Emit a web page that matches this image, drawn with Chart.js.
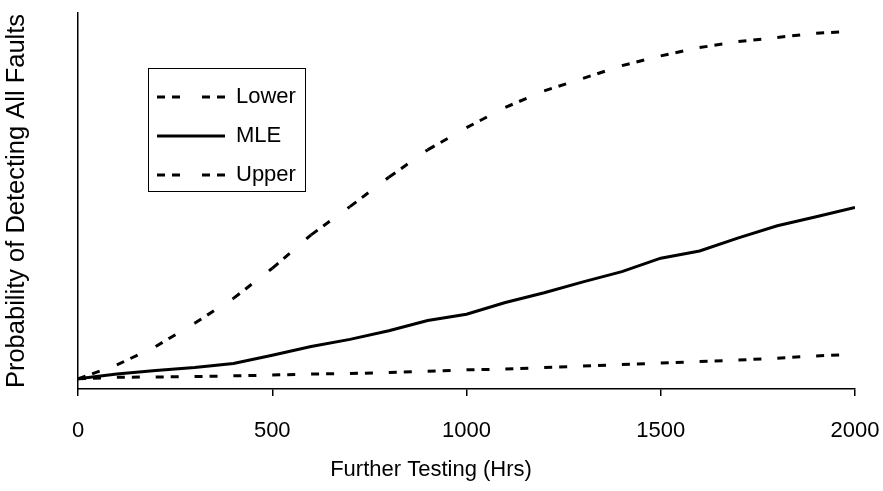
<!DOCTYPE html>
<html>
<head>
<meta charset="utf-8">
<script src="https://cdn.jsdelivr.net/npm/chart.js@4.4.1/dist/chart.umd.min.js"></script>
<style>
  body { margin: 0; background: #fff; }
</style>
</head>
<body>
<canvas id="chart" width="883" height="491"></canvas>
<script>
// y on a 0..1 probability scale
const hours = [0, 100, 200, 300, 400, 500, 600, 700, 800, 900, 1000,
  1100, 1200, 1300, 1400, 1500, 1600, 1700, 1800, 1900, 2000];
const lower = [0.027, 0.031, 0.032, 0.033, 0.035, 0.037, 0.040, 0.041, 0.044, 0.047, 0.051,
  0.053, 0.057, 0.061, 0.065, 0.069, 0.073, 0.077, 0.082, 0.088, 0.092];
const mle = [0.027, 0.040, 0.049, 0.057, 0.068, 0.090, 0.113, 0.132, 0.155, 0.182, 0.199,
  0.230, 0.256, 0.285, 0.312, 0.348, 0.367, 0.402, 0.434, 0.458, 0.483];
const upper = [0.027, 0.064, 0.113, 0.175, 0.241, 0.321, 0.410, 0.485, 0.563, 0.636, 0.695,
  0.749, 0.793, 0.826, 0.860, 0.886, 0.908, 0.924, 0.935, 0.946, 0.952];
const xTicks = [0, 500, 1000, 1500, 2000];

const FONT = "'Liberation Sans', Arial, sans-serif";
const DASH = [8, 7, 8, 22];
const toPoints = (vals) => hours.map((h, i) => ({ x: h, y: vals[i] }));

// restart the dash pattern at every point, like the spreadsheet does
const dashRestart = { borderDashOffset: (c) => (c.p0DataIndex % 2) * 0.01 };

// the legend sits inside the plot with a thin frame around it
const legendBox = {
  id: "legendBox",
  afterLayout(chart) {
    const lg = chart.legend;
    lg.left += 62;
    lg.top += 69;
  },
  afterDraw(chart) {
    const lg = chart.legend;
    const pad = lg.options.labels.padding;
    const col = lg.columnSizes[0];
    const ctx = chart.ctx;
    ctx.save();
    ctx.strokeStyle = "#000";
    ctx.lineWidth = 1;
    ctx.strokeRect(
      Math.round(lg.left + pad - 9) + 0.5,
      Math.round(lg.top + pad - 18) + 0.5,
      Math.round(col.width + 18),
      Math.round(col.height - pad + 23)
    );
    ctx.restore();
  },
};

const ctx = document.getElementById("chart");
new Chart(ctx, {
  type: "line",
  data: {
    datasets: [
      {
        label: "Lower",
        data: toPoints(lower),
        borderColor: "#000",
        borderWidth: 3,
        borderDash: DASH,
        segment: dashRestart,
      },
      {
        label: "MLE",
        data: toPoints(mle),
        borderColor: "#000",
        borderWidth: 3,
      },
      {
        label: "Upper",
        data: toPoints(upper),
        borderColor: "#000",
        borderWidth: 3,
        borderDash: DASH,
        segment: dashRestart,
      },
    ],
  },
  options: {
    responsive: false,
    animation: false,
    events: [],
    layout: { padding: { top: 13, right: 28, left: 7, bottom: 0 } },
    elements: {
      point: { radius: 0 },
      line: { tension: 0, fill: false, borderCapStyle: "butt" },
    },
    scales: {
      x: {
        type: "linear",
        min: 0,
        max: 2000,
        afterBuildTicks: (scale) => {
          scale.ticks = xTicks.map((v) => ({ value: v }));
        },
        afterFit: (scale) => {
          scale.height = 63.6;
          scale.paddingLeft = 0;
          scale.paddingRight = 0;
        },
        grid: {
          drawOnChartArea: false,
          drawTicks: true,
          tickLength: 7,
          color: "#000",
          lineWidth: 1.5,
        },
        border: { display: true, color: "#000", width: 1.5 },
        ticks: {
          color: "#000",
          padding: 22,
          maxRotation: 0,
          callback: (v) => String(v),
          font: { family: FONT, size: 22 },
        },
      },
      y: {
        min: 0,
        max: 1,
        afterFit: (scale) => {
          scale.width = 71;
        },
        grid: { display: false },
        border: { display: true, color: "#000", width: 1.5 },
        ticks: { display: false },
        title: {
          display: true,
          text: "Probability of Detecting All Faults",
          color: "#000",
          padding: { top: -5, bottom: 0 },
          font: { family: FONT, size: 25.5 },
        },
      },
    },
    plugins: {
      // x axis caption, centred on the full width like the original
      title: {
        display: true,
        position: "bottom",
        text: "Further Testing (Hrs)",
        color: "#000",
        font: { family: FONT, size: 22, weight: "normal" },
        padding: { top: 4, bottom: 8 },
      },
      legend: {
        display: true,
        position: "chartArea",
        align: "start",
        labels: {
          usePointStyle: true,
          pointStyle: "line",
          pointStyleWidth: 68,
          padding: 17,
          color: "#000",
          font: { family: FONT, size: 22 },
          generateLabels: (chart) => {
            const items = Chart.defaults.plugins.legend.labels.generateLabels(chart);
            items.forEach((item) => {
              const ds = chart.data.datasets[item.datasetIndex];
              item.lineDash = ds.borderDash || [];
              item.lineWidth = ds.borderWidth;
            });
            return items;
          },
        },
      },
      tooltip: { enabled: false },
    },
  },
  plugins: [legendBox],
});
</script>
</body>
</html>
